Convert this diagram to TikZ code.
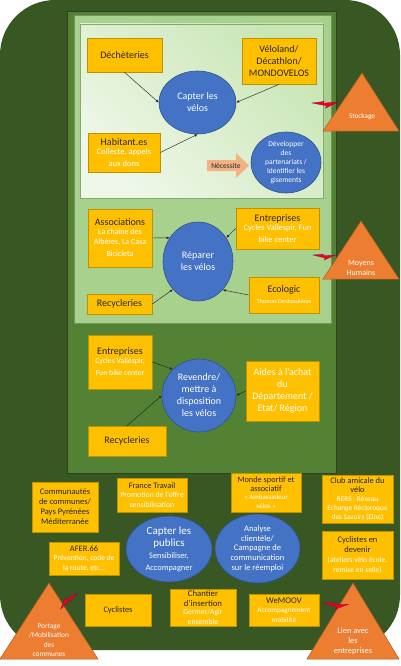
\documentclass[tikz,border=0pt]{standalone}
\usepackage{fontspec}
\setmainfont{Carlito}
\usetikzlibrary{shapes.geometric,arrows.meta}
\definecolor{deepgreen}{HTML}{385723}
\definecolor{frameline}{HTML}{2B4419}
\definecolor{midgreen}{HTML}{548235}
\definecolor{lightgreen}{HTML}{A9D18E}
\definecolor{palegreen}{HTML}{EEF7E8}
\definecolor{leafgreen}{HTML}{C9E6B5}
\definecolor{gold}{HTML}{FFC000}
\definecolor{goldline}{HTML}{BF9000}
\definecolor{bubbleblue}{HTML}{4472C4}
\definecolor{bubbleline}{HTML}{2F528F}
\definecolor{peakorange}{HTML}{ED7D31}
\definecolor{peakline}{HTML}{AE5A21}
\definecolor{salmon}{HTML}{F4B183}
\definecolor{ink}{HTML}{262626}
\newcommand{\fsz}[2]{\fontsize{#1}{#2}\selectfont}
\newcommand{\subfont}[2]{\fontsize{#1}{#2}\selectfont\color{white}}
\newcommand{\zap}[3]{\filldraw[zapbolt, shift={(#1)}, rotate=#2, scale=#3] (0,0) -- (12,-3) -- (11,-1) -- (26,-4.5) -- (14,3.5) -- (15,1) -- cycle;}
\begin{document}
\begin{tikzpicture}[x=1pt, y=-1pt,
  box/.style 2 args={draw=goldline, fill=gold, line width=0.6pt, text=ink, align=flush center, inner xsep=1pt, inner ysep=0pt, text width=#1, minimum height=#2, font=\fsz{10}{12}},
  bubble/.style 2 args={ellipse, draw=bubbleline, fill=bubbleblue, line width=0.6pt, text=white, align=center, inner sep=0pt, minimum width=#1, minimum height=#2, font=\fsz{10}{12}},
  peak/.style={fill=peakorange, draw=peakline, line width=0.5pt},
  peaktext/.style={text=white, align=center},
  link/.style={draw=ink, line width=0.45pt, -{Latex[length=3pt,width=2.6pt]}},
  zapbolt/.style={fill=red, draw=red!50!blue, line width=0.3pt}]
\useasboundingbox (0,0) rectangle (400,666);
\fill[white] (0,0) rectangle (400,666);
\fill[deepgreen, rounded corners=55pt] (0,0) rectangle (400,650);
\filldraw[fill=midgreen, draw=frameline, line width=0.8pt] (67,11) rectangle (336,473);
\filldraw[fill=lightgreen, draw=lightgreen!70!black, line width=0.5pt] (74,15) rectangle (331,323);
\shade[left color=palegreen, right color=leafgreen, shading angle=135] (80,24) rectangle (323,198);
\draw[lightgreen!80!black, line width=0.5pt] (80,24) rectangle (323,198);

\node[box={73pt}{34pt}] (dech) at (124.5,55) {Déchèteries};
\node[box={72pt}{46pt}] (velo) at (279,61) {Véloland/\\Décathlon/\\MONDOVELOS};
\node[bubble={77pt}{63pt}] (capv) at (197.5,102.5) {Capter les\\vélos};
\node[box={70pt}{39pt}] (hab) at (124,152.5) {Habitant.es\\[-1pt]\subfont{8.5}{10}Collecte, appels\\aux dons};
\node[bubble={70pt}{61pt}, font=\fsz{7.5}{9}] (dev) at (286,162.5) {Développer\\des\\partenariats /\\Identifier les\\gisements};
\fill[salmon] (207,160) -- (236,160) -- (236,153) -- (249,165.5) -- (236,178) -- (236,171) -- (207,171) -- cycle;
\node[text=ink, font=\fsz{7.5}{9}, inner sep=0pt] (nec) at (226,165.5) {Nécessite};

\node[box={62pt}{58pt}] (asso) at (120,238) {Associations\\[-1pt]\subfont{8}{10}La chaîne des\\Albères, La Casa\\Bicicleta};
\node[box={81pt}{41pt}] (ent1) at (277.5,228.5) {Entreprises\\[-1pt]\subfont{8.4}{10}Cycles Vallespir, Fun\\bike center};
\node[bubble={70pt}{79pt}] (rep) at (198,261.5) {Réparer\\les vélos};
\node[box={63pt}{20pt}] (rec1) at (119.5,304) {Recycleries};
\node[box={68pt}{36pt}] (eco) at (284,295) {Ecologic\\[-1pt]\subfont{6.3}{8}Thomas Deshoulières};

\node[box={62pt}{54pt}] (ent2) at (120,362) {Entreprises\\[-1pt]\subfont{7.8}{10}Cycles Vallespir,\\Fun bike center};
\node[bubble={74pt}{73pt}] (rev) at (199,395.5) {Revendre/\\mettre à\\disposition\\les vélos};
\node[box={71pt}{60pt}, text=white] (aides) at (282.5,391) {Aides à l'achat\\du\\Département /\\Etat/ Région};
\node[box={76pt}{30pt}] (rec2) at (127,441) {Recycleries};

\draw[link] (dech.south) -- (capv.west);
\draw[link] (velo.south) -- (capv.east);
\draw[link] (hab.east) -- (capv.south);
\draw[link] (asso.east) -- (rep.140);
\draw[link] (ent1.west) -- (rep.40);
\draw[link] (rec1.east) -- (rep.228);
\draw[link] (eco.west) -- (rep.311);
\draw[link] (ent2.east) -- (rev.135);
\draw[link] (rec2.north) -- (rev.west);
\draw[link] (aides.west) -- (rev.east);

\node[box={64pt}{50pt}, font=\fsz{8.5}{10}] (comm) at (65,507) {Communautés\\de communes/\\Pays Pyrénées\\Méditerranée};
\node[box={68pt}{34pt}, font=\fsz{8.4}{10}] (ftrav) at (152,495) {France Travail\\\subfont{7.8}{9.5}Promotion de l'offre\\sensibilisation};
\node[box={68pt}{33pt}, font=\fsz{8.4}{10}] (afer) at (84,558.5) {AFER.66\\\subfont{7.5}{9.5}Prévention, code de\\la route, etc…};
\node[bubble={86pt}{66pt}, font=\fsz{11}{12}] (cpub) at (169,549) {Capter les\\publics\\{\fsz{8.4}{10}Sensibiliser,}\\{\fsz{8.4}{10}Accompagner}};
\node[bubble={85pt}{69pt}, font=\fsz{8.5}{9.7}] (anal) at (257.5,548.5) {Analyse\\clientèle/\\Campagne de\\communication\\sur le réemploi};
\node[box={68pt}{39pt}, font=\fsz{8.3}{9.2}] (monde) at (266,492.5) {Monde sportif et\\associatif\\\subfont{6.9}{8.2}« Ambassadeur\\vélos »};
\node[box={69pt}{48pt}, font=\fsz{8.4}{9.4}] (club) at (357.5,499) {Club amicale du\\vélo\\\subfont{7.3}{8.6}RERS : Réseau\\Echange Réciproque\\des Savoirs (Elne)};
\node[box={69pt}{48pt}, font=\fsz{8.5}{10}] (cdev) at (357.5,555) {Cyclistes en\\devenir\\\subfont{7.6}{9.2}(ateliers vélo école,\\remise en selle)};
\node[box={64pt}{32pt}, font=\fsz{8.4}{10}] (cycl) at (118,610) {Cyclistes};
\node[box={64pt}{37pt}, font=\fsz{8.7}{9.3}] (chant) at (203,607.5) {Chantier\\d'insertion\\\subfont{7.7}{8.6}Germer/Agir\\ensemble};
\node[box={68pt}{32pt}, font=\fsz{8.7}{10}] (wemoov) at (284,610) {WeMOOV\\\subfont{7.2}{9}Accompagnement\\mobilité};

\draw[peak] (323,131) -- (362,73) -- (399,131) -- cycle;
\node[peaktext, font=\fsz{7.2}{9}] (stock) at (362,117) {Stockage};
\draw[peak] (323,279) -- (361,221) -- (399,279) -- cycle;
\node[peaktext, font=\fsz{8}{10}] (moyens) at (361,268) {Moyens\\Humains};
\draw[peak] (0,659) -- (49,583) -- (98,659) -- cycle;
\node[peaktext, font=\fsz{7.3}{9.5}] (portage) at (49,640) {Portage\\/Mobilisation\\des\\communes};
\draw[peak] (307,659) -- (353,583) -- (399,659) -- cycle;
\node[peaktext, font=\fsz{8.4}{10}] (lien) at (353,641) {Lien avec\\les\\entreprises};

\zap{312,103}{-7}{1}
\zap{313,255}{-10}{0.85}
\zap{78,593}{213}{0.9}
\zap{323,603}{-13}{0.95}
\end{tikzpicture}
\end{document}
